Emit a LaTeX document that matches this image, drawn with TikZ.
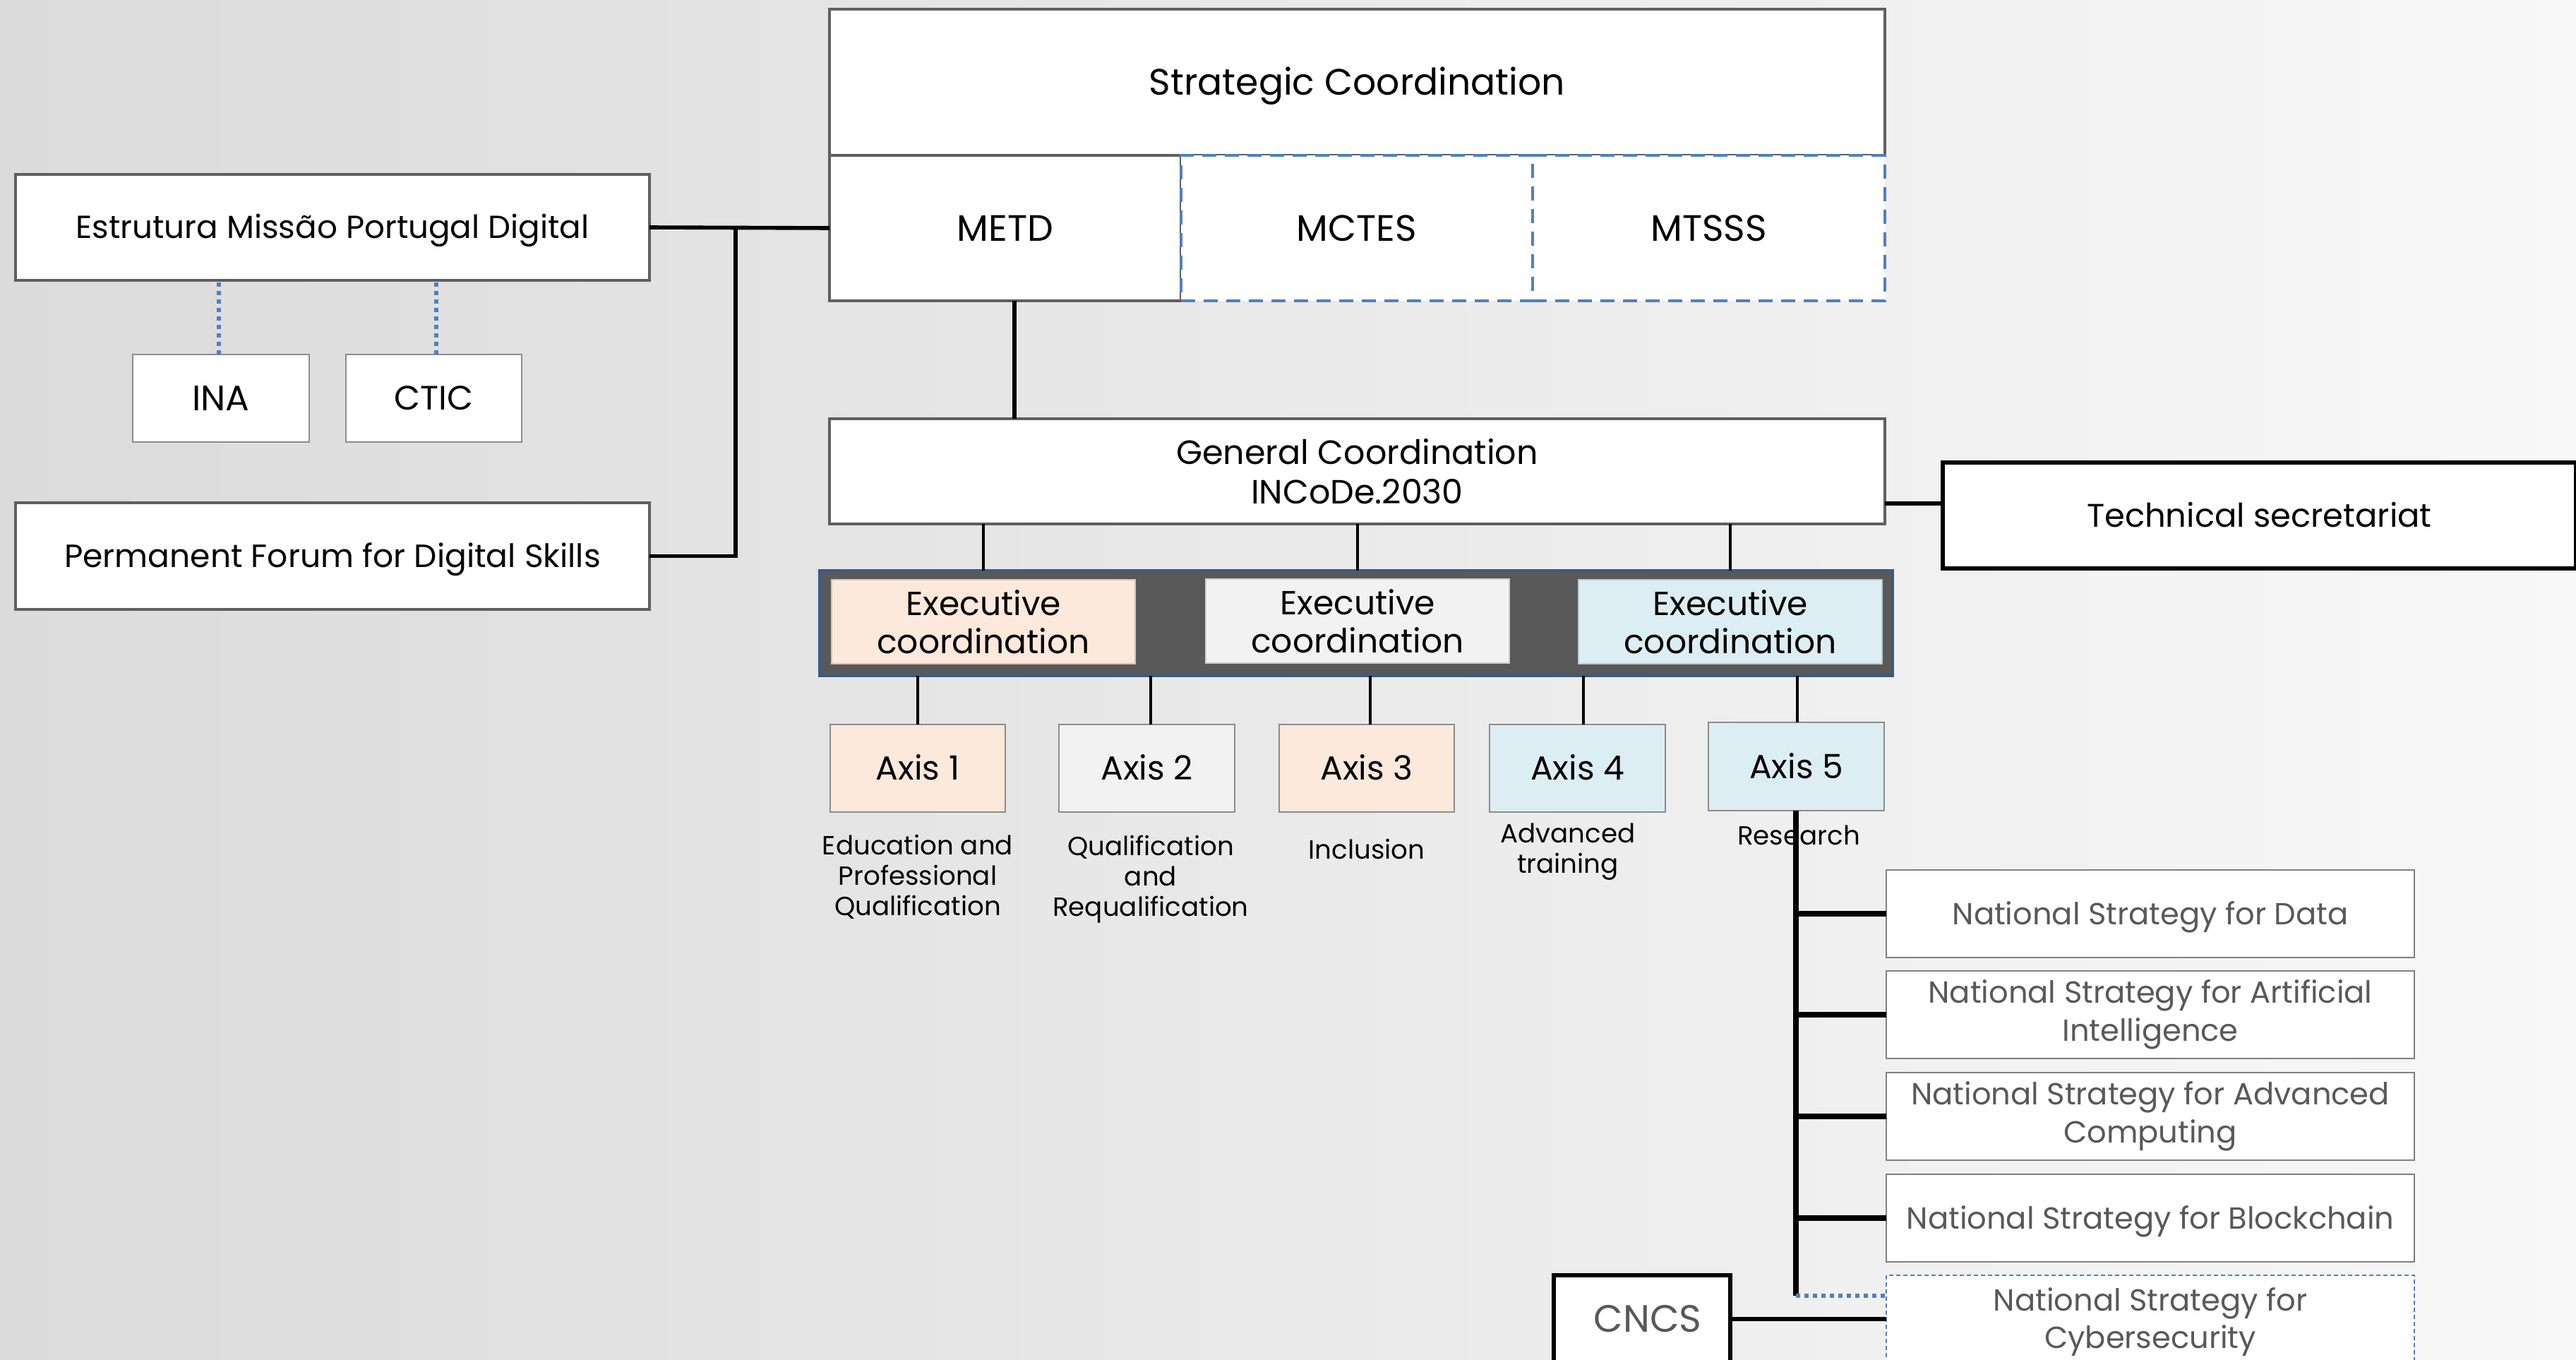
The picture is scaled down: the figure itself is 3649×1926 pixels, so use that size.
\documentclass[tikz,border=0pt]{standalone}
\usepackage{fontspec}
\setmainfont{Poppins}
\definecolor{bgL}{HTML}{DBDBDB}
\definecolor{bgR}{HTML}{F8F8F8}
\definecolor{bord}{HTML}{5F5F5F}
\definecolor{thinb}{HTML}{8C8C8C}
\definecolor{dblue}{HTML}{4F81BD}
\definecolor{peach}{HTML}{FCE9DB}
\definecolor{lgray}{HTML}{F2F2F2}
\definecolor{lblue}{HTML}{DCEEF4}
\definecolor{bandfill}{HTML}{595959}
\definecolor{bandb}{HTML}{3A5A8A}
\definecolor{txtg}{HTML}{595959}
\newcommand\fs[2]{\fontsize{#1}{#2}\selectfont}
% \bx[style]{name}{x1}{y1}{x2}{y2}{text}
\newcommand\bx[7][]{%
  \pgfmathsetmacro\bxw{(#5-#3)*0.25}%
  \pgfmathsetmacro\bxh{(#6-#4)*0.25}%
  \node[#1, minimum width=\bxw pt, minimum height=\bxh pt] (#2) at ({(#3+#5)/2},{(#4+#6)/2}) {#7};}
\begin{document}
\begin{tikzpicture}[x=0.25pt,y=-0.25pt,
  box/.style={draw=bord, line width=1.2pt, fill=white, inner sep=0pt, outer sep=0pt, align=center},
  thinbox/.style={draw=thinb, line width=0.5pt, inner sep=0pt, outer sep=0pt, align=center},
  blackbox/.style={draw=black, line width=1.5pt, fill=white, inner sep=0pt, outer sep=0pt, align=center},
  dashbox/.style={draw=dblue, line width=1.1pt, dash pattern=on 5pt off 3pt, fill=white, inner sep=0pt, outer sep=0pt, align=center},
  strat/.style={thinbox, draw=gray, fill=white, text=txtg, font=\fs{10.8}{13.4}},
  cap/.style={text height=#1, text depth=0pt},
  conn/.style={draw=black, line width=1.4pt},
  thickconn/.style={draw=black, line width=1.9pt},
  thinconn/.style={draw=black, line width=0.8pt},
  dotblue/.style={draw=dblue, line width=1.5pt, dash pattern=on 1.5pt off 1.5pt},
  lbl/.style={font=\fs{9.3}{10.8}, align=center, inner sep=0pt}
]
\clip (0,0) rectangle (3649,1926);
\fill[left color=bgL, right color=bgR] (0,0) rectangle (3649,1926);

% top group
\bx[box, font=\fs{13}{15}, cap=9.1pt]{sc}{1175}{13}{2670}{220}{Strategic Coordination}
\bx[box, font=\fs{13}{15}, cap=9.1pt]{metd}{1175}{220}{1673}{426}{METD}
\bx[dashbox, font=\fs{13}{15}, cap=9.1pt]{mctes}{1673}{220}{2171}{426}{MCTES}
\bx[dashbox, font=\fs{13}{15}, cap=9.1pt]{mtsss}{2171}{220}{2670}{426}{MTSSS}

% left group
\bx[box, font=\fs{11.3}{13}, cap=7.9pt]{emp}{22}{247}{920}{397}{Estrutura Missão Portugal Digital}
\bx[thinbox, fill=white, font=\fs{12.5}{14}, cap=8.75pt]{ina}{188}{502}{438}{626}{INA}
\bx[thinbox, fill=white, font=\fs{12}{14}, cap=8.4pt]{ctic}{490}{502}{739}{626}{CTIC}
\bx[box, font=\fs{11.4}{13}, cap=8pt]{pf}{22}{712}{920}{863}{Permanent Forum for Digital Skills}
\coordinate (j1) at (1042,322);

\draw[conn] (emp.east) -- (metd.west);
\draw[conn] (j1) |- (pf.east);
\draw[dotblue] (ina.north -| 310,0) -- (emp.south -| 310,0);
\draw[dotblue] (ctic.north -| 618,0) -- (emp.south -| 618,0);

% general coordination
\bx[box, line width=1pt, font=\fs{11.9}{14}]{gc}{1175}{593}{2670}{742}{General Coordination\\INCoDe.2030}
\bx[blackbox, font=\fs{11.6}{13}, cap=8.1pt]{ts}{2752}{655}{3649}{805}{Technical secretariat}
\draw[conn] (metd.south -| 1437,0) -- (gc.north -| 1437,0);
\draw[conn] (gc.east |- 0,713) -- (ts.west |- 0,713);

% executive band
\bx[fill=bandfill, draw=bandb, line width=1pt, inner sep=0pt, outer sep=0pt]{band}{1161}{808}{2681}{957}{}
\bx[thinbox, draw=peach!85!black, line width=0.3pt, fill=peach, font=\fs{11.8}{13.4}]{ex1}{1178}{821}{1608}{940}{Executive\\coordination}
\bx[thinbox, draw=lgray!85!black, line width=0.3pt, fill=lgray, font=\fs{11.8}{13.4}]{ex2}{1708}{820}{2138}{939}{Executive\\coordination}
\bx[thinbox, draw=lblue!85!black, line width=0.3pt, fill=lblue, font=\fs{11.8}{13.4}]{ex3}{2236}{821}{2666}{940}{Executive\\coordination}
\foreach \e in {ex1,ex2,ex3}{\draw[thinconn] (\e.north |- gc.south) -- (\e.north |- band.north);}

% axes
\bx[thinbox, fill=peach, font=\fs{11.8}{13}, cap=8.3pt]{ax1}{1176}{1026}{1424}{1150}{Axis 1}
\bx[thinbox, fill=lgray, font=\fs{11.8}{13}, cap=8.3pt]{ax2}{1500}{1026}{1749}{1150}{Axis 2}
\bx[thinbox, fill=peach, font=\fs{11.8}{13}, cap=8.3pt]{ax3}{1812}{1026}{2060}{1150}{Axis 3}
\bx[thinbox, fill=lblue, font=\fs{11.8}{13}, cap=8.3pt]{ax4}{2110}{1026}{2359}{1150}{Axis 4}
\bx[thinbox, fill=lblue, font=\fs{11.8}{13}, cap=8.3pt]{ax5}{2420}{1023}{2669}{1148}{Axis 5}
\draw[thinconn] (ax1.north -| 1300,0) -- (band.south -| 1300,0);
\draw[thinconn] (ax2.north -| 1630,0) -- (band.south -| 1630,0);
\draw[thinconn] (ax3.north -| 1941,0) -- (band.south -| 1941,0);
\draw[thinconn] (ax4.north -| 2243,0) -- (band.south -| 2243,0);
\draw[thinconn] (ax5.north -| 2546,0) -- (band.south -| 2546,0);

\node[lbl] (l1) at (1300,1242) {Education and\\Professional\\Qualification};
\node[lbl] (l2) at (1630,1245) {Qualification\\and\\Requalification};
\node[lbl] (l3) at (1936,1202) {Inclusion};
\node[lbl] (l4) at (2221,1206) {Advanced\\training};
\node[lbl] (l5) at (2548,1183) {Research};

% strategies
\bx[strat, cap=7.6pt]{sd}{2672}{1232}{3420}{1356}{National Strategy for Data}
\bx[strat]{sai}{2672}{1375}{3420}{1499}{National Strategy for Artificial\\Intelligence}
\bx[strat]{sac}{2672}{1519}{3420}{1643}{National Strategy for Advanced\\Computing}
\bx[strat, cap=7.6pt]{sb}{2672}{1663}{3420}{1787}{National Strategy for Blockchain}
\bx[thinbox, draw=dblue, fill=white, dash pattern=on 1.5pt off 1pt]{cy}{2672}{1806}{3420}{1990}{}
\node[strat, draw=none, fill=none] (cyt) at (3046,1872) {National Strategy for\\Cybersecurity};
\bx[blackbox]{cncs}{2201}{1806}{2451}{1990}{}
\node[font=\fs{13.5}{15}, text=txtg, inner sep=0pt] (cncst) at (2334,1868) {CNCS};

\coordinate (rend) at (2544,1835);
\draw[thickconn] (ax5.south -| rend) -- (rend);
\foreach \s in {sd,sai,sac,sb}{\draw[thickconn] (\s.west -| rend) -- (\s.west);}
\draw[dotblue] (rend) -- (rend -| cy.west);
\draw[conn] (cncs.east |- 0,1868) -- (cy.west |- 0,1868);
\end{tikzpicture}
\end{document}
